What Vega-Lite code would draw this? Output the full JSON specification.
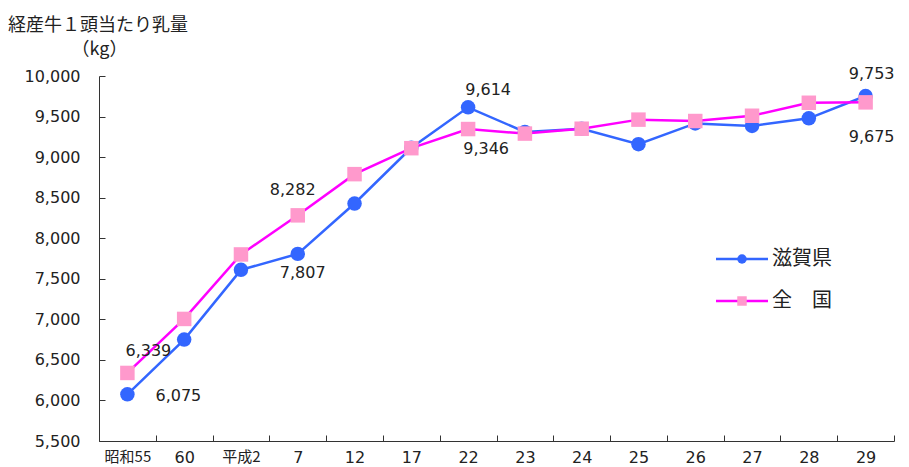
{
  "$schema": "https://vega.github.io/schema/vega-lite/v6.json",
  "width": 795,
  "height": 365,
  "autosize": {"type": "none"},
  "padding": {"left": 99, "top": 76, "right": 15, "bottom": 26},
  "background": "white",
  "title": {
    "text": "経産牛１頭当たり乳量",
    "anchor": "start", "frame": "group", "orient": "top",
    "font": "Noto Sans CJK JP", "fontSize": 18, "fontWeight": "normal", "color": "#222",
    "baseline": "alphabetic", "offset": 0, "dx": -91, "dy": 9
  },
  "config": {
    "view": {"stroke": null},
    "font": "DejaVu Sans",
    "text": {"font": "DejaVu Sans", "fontSize": 16, "color": "#222"}
  },
  "data": {
    "values": [
      {"year": "昭和55", "series": "滋賀県", "value": 6075},
      {"year": "60", "series": "滋賀県", "value": 6750},
      {"year": "平成2", "series": "滋賀県", "value": 7610},
      {"year": "7", "series": "滋賀県", "value": 7807},
      {"year": "12", "series": "滋賀県", "value": 8428},
      {"year": "17", "series": "滋賀県", "value": 9115},
      {"year": "22", "series": "滋賀県", "value": 9614},
      {"year": "23", "series": "滋賀県", "value": 9310},
      {"year": "24", "series": "滋賀県", "value": 9350},
      {"year": "25", "series": "滋賀県", "value": 9160},
      {"year": "26", "series": "滋賀県", "value": 9415},
      {"year": "27", "series": "滋賀県", "value": 9385},
      {"year": "28", "series": "滋賀県", "value": 9478},
      {"year": "29", "series": "滋賀県", "value": 9753},
      {"year": "昭和55", "series": "全　国", "value": 6339},
      {"year": "60", "series": "全　国", "value": 7005},
      {"year": "平成2", "series": "全　国", "value": 7800},
      {"year": "7", "series": "全　国", "value": 8282},
      {"year": "12", "series": "全　国", "value": 8790},
      {"year": "17", "series": "全　国", "value": 9110},
      {"year": "22", "series": "全　国", "value": 9346},
      {"year": "23", "series": "全　国", "value": 9290},
      {"year": "24", "series": "全　国", "value": 9350},
      {"year": "25", "series": "全　国", "value": 9462},
      {"year": "26", "series": "全　国", "value": 9445},
      {"year": "27", "series": "全　国", "value": 9510},
      {"year": "28", "series": "全　国", "value": 9670},
      {"year": "29", "series": "全　国", "value": 9675}
    ]
  },
  "encoding": {
    "x": {
      "field": "year", "type": "nominal", "bandPosition": 0.5,
      "scale": {"type": "band", "paddingInner": 0, "paddingOuter": 0,
        "domain": ["昭和55","60","平成2","7","12","17","22","23","24","25","26","27","28","29"]},
      "axis": {
        "title": null, "labelAngle": 0, "tickBand": "extent",
        "tickSize": -6, "labelPadding": 14,
        "domainColor": "#333", "tickColor": "#333",
        "labelColor": "#222",
        "labelFontSize": {"condition": {"test": "datum.value === '昭和55' || datum.value === '平成2'", "value": 15}, "value": 16},
        "labelFont": {"condition": {"test": "datum.value === '昭和55' || datum.value === '平成2'", "value": "Noto Sans CJK JP"}, "value": "DejaVu Sans"},
        "grid": false
      }
    },
    "y": {
      "field": "value", "type": "quantitative",
      "scale": {"domain": [5500, 10000], "nice": false, "zero": false},
      "axis": {
        "values": [5500,6000,6500,7000,7500,8000,8500,9000,9500,10000],
        "format": ",d", "grid": false,
        "tickSize": -6, "labelPadding": 25,
        "domainColor": "#333", "tickColor": "#333",
        "labelColor": "#222", "labelFont": "DejaVu Sans", "labelFontSize": 16,
        "title": "（kg）",
        "titleAngle": 0, "titleAlign": "left", "titleBaseline": "alphabetic",
        "titleX": -28, "titleY": -22,
        "titleFont": "Noto Sans CJK JP", "titleFontSize": 18, "titleFontWeight": "normal",
        "titleColor": "#222"
      }
    }
  },
  "layer": [
    {
      "mark": {"type": "line", "strokeWidth": 2.5},
      "encoding": {
        "stroke": {
          "field": "series", "type": "nominal",
          "scale": {"domain": ["滋賀県", "全　国"], "range": ["#3366FF", "#FF00FF"]},
          "legend": {
            "title": null, "orient": "none", "legendX": 633, "legendY": 173,
            "padding": 0, "symbolType": "M-5.2,0H5.2", "symbolSize": 100, "symbolStrokeWidth": 2.5,
            "labelFont": "Noto Sans CJK JP", "labelFontSize": 20, "labelColor": "#222",
            "labelOffset": 20, "rowPadding": 22
          }
        }
      }
    },
    {
      "mark": {"type": "point", "filled": true, "opacity": 1, "size": 210},
      "encoding": {
        "fill": {
          "field": "series", "type": "nominal",
          "scale": {"domain": ["滋賀県", "全　国"], "range": ["#3366FF", "#FF99CC"]},
          "legend": {
            "title": null, "orient": "none", "legendX": 633, "legendY": 173,
            "padding": 0, "symbolSize": 90, "symbolStrokeWidth": 0,
            "labelExpr": "''", "labelFontSize": 20, "rowPadding": 22
          }
        },
        "shape": {
          "field": "series", "type": "nominal",
          "scale": {"domain": ["滋賀県", "全　国"], "range": ["circle", "square"]},
          "legend": {
            "title": null, "orient": "none", "legendX": 633, "legendY": 173,
            "padding": 0, "symbolSize": 90, "symbolStrokeWidth": 0,
            "labelExpr": "''", "labelFontSize": 20, "rowPadding": 22
          }
        }
      }
    },
    {
      "transform": [{"filter": "datum.series === '全　国' && datum.year === '昭和55'"}],
      "mark": {"type": "text", "dx": 21, "dy": -22, "baseline": "middle"},
      "encoding": {"text": {"field": "value", "type": "quantitative", "format": ",d"}}
    },
    {
      "transform": [{"filter": "datum.series === '滋賀県' && datum.year === '昭和55'"}],
      "mark": {"type": "text", "dx": 51, "dy": 2, "baseline": "middle"},
      "encoding": {"text": {"field": "value", "type": "quantitative", "format": ",d"}}
    },
    {
      "transform": [{"filter": "datum.series === '全　国' && datum.year === '7'"}],
      "mark": {"type": "text", "dx": -5, "dy": -25, "baseline": "middle"},
      "encoding": {"text": {"field": "value", "type": "quantitative", "format": ",d"}}
    },
    {
      "transform": [{"filter": "datum.series === '滋賀県' && datum.year === '7'"}],
      "mark": {"type": "text", "dx": 5, "dy": 19, "baseline": "middle"},
      "encoding": {"text": {"field": "value", "type": "quantitative", "format": ",d"}}
    },
    {
      "transform": [{"filter": "datum.series === '滋賀県' && datum.year === '22'"}],
      "mark": {"type": "text", "dx": 20, "dy": -17, "baseline": "middle"},
      "encoding": {"text": {"field": "value", "type": "quantitative", "format": ",d"}}
    },
    {
      "transform": [{"filter": "datum.series === '全　国' && datum.year === '22'"}],
      "mark": {"type": "text", "dx": 18, "dy": 20, "baseline": "middle"},
      "encoding": {"text": {"field": "value", "type": "quantitative", "format": ",d"}}
    },
    {
      "transform": [{"filter": "datum.series === '滋賀県' && datum.year === '29'"}],
      "mark": {"type": "text", "dx": 6, "dy": -22, "baseline": "middle"},
      "encoding": {"text": {"field": "value", "type": "quantitative", "format": ",d"}}
    },
    {
      "transform": [{"filter": "datum.series === '全　国' && datum.year === '29'"}],
      "mark": {"type": "text", "dx": 6, "dy": 35, "baseline": "middle"},
      "encoding": {"text": {"field": "value", "type": "quantitative", "format": ",d"}}
    }
  ],
  "resolve": {"scale": {"fill": "independent", "stroke": "independent", "shape": "independent"}}
}
